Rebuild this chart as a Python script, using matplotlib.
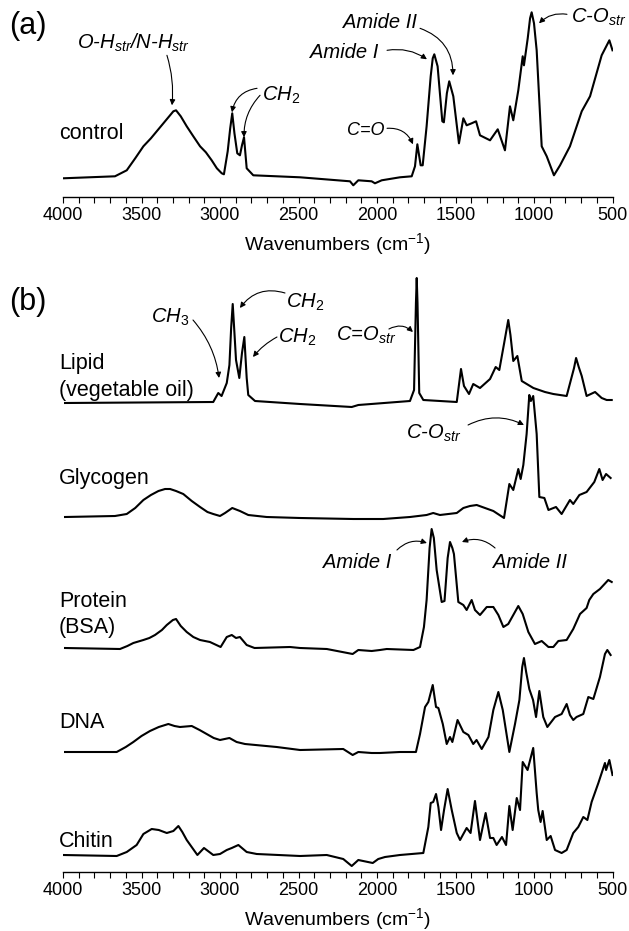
import matplotlib
matplotlib.use("Agg")
import matplotlib.pyplot as plt
from matplotlib.ticker import MultipleLocator

plt.rcParams['font.family'] = 'Liberation Sans'
plt.rcParams['mathtext.fontset'] = 'custom'
plt.rcParams['mathtext.rm'] = 'Liberation Sans'
plt.rcParams['mathtext.it'] = 'Liberation Sans:italic'

# --- (a) control spectrum ---
control_wn = [4000, 3669, 3594, 3540, 3488, 3440, 3403, 3350, 3297, 3280, 3250, 3212, 3170, 3127,
              3090, 3053, 3020, 2989, 2975, 2951, 2935, 2922, 2908, 2890, 2873, 2860, 2847, 2830,
              2788, 2490, 2172, 2151, 2119, 2034, 2013, 1970, 1854, 1779, 1758, 1743, 1722, 1709,
              1684, 1658, 1645, 1635, 1614, 1584, 1574, 1555, 1540, 1514, 1478, 1450, 1429, 1397,
              1369, 1344, 1280, 1231, 1185, 1153, 1132, 1100, 1072, 1064, 1040, 1025, 1015, 1000,
              983, 951, 919, 873, 834, 771, 696, 643, 569, 520, 500]
control_abs = [0, 2, 8, 20, 32, 40, 47, 57, 67, 68, 62, 52, 42, 32,
               26, 18, 10, 5, 4, 27, 50, 65, 45, 25, 23, 33, 41, 10,
               3, 1, -3, -7, -2, -3, -5, -2, 1, 2, 12, 34, 13, 13,
               52, 102, 120, 124, 112, 57, 56, 85, 97, 82, 35, 60, 53, 55,
               57, 43, 38, 49, 28, 72, 58, 88, 122, 113, 140, 160, 166, 155,
               128, 32, 22, 3, 13, 32, 67, 82, 123, 138, 128]

# --- (b) reference compounds ---
lipid_wn = [3987, 3043, 3011, 2990, 2957, 2940, 2929, 2919, 2908, 2898, 2877, 2860, 2845, 2830,
            2820, 2777, 2490, 2161, 2119, 1790, 1764, 1752, 1747, 1742, 1731, 1705, 1492, 1465,
            1446, 1414, 1387, 1344, 1280, 1244, 1221, 1190, 1164, 1150, 1132, 1106, 1078, 1004,
            930, 877, 792, 745, 732, 715, 696, 665, 611, 569, 537, 505]
lipid_abs = [0, 1, 10, 7, 20, 38, 75, 99, 70, 43, 25, 50, 66, 25,
             8, 2, -1, -4, -2, 2, 13, 100, 125, 100, 10, 3, 1, 34,
             17, 9, 19, 15, 24, 36, 33, 60, 83, 68, 42, 47, 22, 15,
             11, 9, 7, 35, 45, 36, 27, 7, 11, 5, 3, 3]

glyc_wn = [3987, 3669, 3594, 3540, 3488, 3440, 3392, 3350, 3318, 3280, 3234, 3180, 3127, 3080,
           3043, 3000, 2968, 2922, 2873, 2820, 2703, 2490, 2151, 1960, 1790, 1684, 1642, 1599,
           1492, 1450, 1408, 1365, 1312, 1259, 1191, 1157, 1132, 1100, 1085, 1068, 1047, 1030,
           1020, 1005, 983, 966, 934, 908, 860, 824, 771, 750, 711, 665, 616, 584, 563, 541, 512]
glyc_abs = [0, 1, 3, 9, 17, 22, 26, 28, 28, 26, 23, 16, 10, 5,
            3, 1, 4, 9, 6, 2, 0, -1, -2, -2, 0, 2, 4, 2,
            4, 9, 11, 12, 9, 6, -1, 33, 27, 48, 38, 52, 83, 122,
            116, 121, 83, 20, 19, 7, 10, 3, 17, 13, 22, 25, 35, 48, 37, 43, 39]

prot_wn = [3987, 3637, 3590, 3552, 3488, 3450, 3414, 3370, 3339, 3300, 3280, 3250, 3212, 3170,
           3127, 3064, 2996, 2957, 2925, 2898, 2873, 2830, 2780, 2554, 2490, 2320, 2155, 2119,
           2034, 1981, 1938, 1768, 1726, 1701, 1684, 1665, 1652, 1638, 1620, 1588, 1570, 1550,
           1535, 1520, 1510, 1482, 1450, 1429, 1397, 1376, 1344, 1301, 1259, 1227, 1195, 1164,
           1132, 1100, 1072, 1036, 994, 951, 908, 877, 845, 792, 750, 707, 686, 665, 648, 622,
           580, 527, 505]
prot_abs = [0, -1, 2, 5, 8, 10, 13, 18, 23, 28, 29, 22, 16, 11,
            8, 6, 1, 11, 13, 10, 11, 3, 0, 1, 0, -1, -6, -2,
            -3, -2, -1, -2, 1, 21, 48, 100, 119, 110, 78, 46, 47, 90,
            106, 100, 94, 46, 43, 38, 48, 38, 33, 41, 41, 33, 21, 24,
            33, 42, 34, 16, 4, 7, 1, 1, 7, 8, 19, 34, 37, 40, 48, 54,
            59, 68, 66]

dna_wn = [3987, 3658, 3600, 3552, 3500, 3446, 3390, 3329, 3290, 3255, 3180, 3130, 3085, 3040,
          3000, 2940, 2894, 2841, 2639, 2490, 2215, 2155, 2119, 2034, 1981, 1854, 1752, 1726,
          1694, 1673, 1645, 1624, 1609, 1581, 1556, 1535, 1520, 1487, 1450, 1418, 1387, 1366,
          1333, 1290, 1259, 1227, 1199, 1157, 1121, 1093, 1075, 1064, 1050, 1030, 1006, 987, 966,
          941, 915, 866, 824, 792, 771, 750, 729, 686, 654, 622, 580, 548, 533, 512]
dna_abs = [0, 0, 5, 10, 16, 21, 25, 28, 26, 25, 26, 22, 18, 14,
           12, 14, 10, 8, 5, 2, 3, -3, 0, -1, -1, 0, 0, 18,
           45, 50, 67, 45, 44, 28, 8, 15, 10, 32, 20, 17, 8, 12,
           3, 15, 42, 60, 42, 0, 28, 52, 85, 94, 80, 63, 52, 35, 61,
           35, 25, 35, 38, 48, 37, 32, 35, 38, 55, 53, 75, 98, 102, 97]

chit_wn = [4000, 3658, 3594, 3531, 3488, 3435, 3390, 3339, 3297, 3265, 3240, 3212, 3144, 3102,
           3043, 3000, 2957, 2925, 2883, 2830, 2766, 2490, 2320, 2215, 2161, 2119, 2027, 1992,
           1949, 1854, 1705, 1673, 1658, 1642, 1624, 1609, 1592, 1573, 1550, 1524, 1492, 1471,
           1429, 1404, 1376, 1344, 1308, 1280, 1259, 1238, 1204, 1178, 1157, 1136, 1110, 1089,
           1072, 1041, 1005, 983, 973, 958, 945, 919, 894, 866, 824, 792, 750, 718, 686, 660,
           633, 590, 548, 541, 520, 500]
chit_abs = [0, -1, 3, 10, 21, 26, 25, 22, 24, 29, 23, 15, 0, 7,
            0, 1, 5, 7, 10, 3, 1, -1, 0, -4, -11, -5, -8, -4,
            -2, 0, 2, 28, 52, 53, 61, 48, 25, 45, 66, 45, 22, 15,
            27, 22, 54, 15, 42, 17, 17, 10, 18, 10, 49, 25, 57, 45,
            93, 85, 107, 62, 45, 33, 44, 15, 19, 5, 2, 5, 22, 28, 38, 35,
            53, 72, 92, 85, 95, 80]

names = ["Lipid", "(vegetable oil)", "Glycogen", "Protein", "(BSA)", "DNA", "Chitin"]
spectra = [(lipid_wn, lipid_abs), (glyc_wn, glyc_abs), (prot_wn, prot_abs),
           (dna_wn, dna_abs), (chit_wn, chit_abs)]
offsets = [469, 355, 224, 120, 17]
label_y = [503, 476, 388, 265, 239, 144, 25]

W, H = 629, 931
fig = plt.figure(figsize=(W / 100, H / 100), dpi=100)
ax_a = fig.add_axes([63 / W, (H - 197) / H, 549.5 / W, 192 / H])
ax_b = fig.add_axes([63 / W, 59 / H, 549.5 / W, 607 / H])

fs_tick = 13
fs_lab = 15.5
fs_note = 14.5
for ax in (ax_a, ax_b):
    for s in ("left", "right", "top"):
        ax.spines[s].set_visible(False)
    ax.spines["bottom"].set_linewidth(1.0)
    ax.set_yticks([])
    ax.set_xlim(4000, 500)
    ax.xaxis.set_major_locator(MultipleLocator(500))
    ax.xaxis.set_minor_locator(MultipleLocator(100))
    ax.tick_params(axis="x", which="both", length=4, width=0.8, labelsize=fs_tick, pad=3)
    ax.set_xlabel("Wavenumbers (cm$^{\\mathrm{-1}}$)", fontsize=14, labelpad=5)

lw = 1.5
ax_a.plot(control_wn, control_abs, color="black", lw=lw)
ax_a.set_ylim(-18.7, 173.3)

for (wn, ab), off in zip(spectra, offsets):
    ax_b.plot(wn, [v + off for v in ab], color="black", lw=lw)
ax_b.set_ylim(0, 607)

# labels
ax_a.text(4025, 39, "control", fontsize=fs_lab, ha="left", va="baseline")
for name, y in zip(names, label_y):
    ax_b.text(4025, y, name, fontsize=fs_lab, ha="left", va="baseline")
fig.text(9 / W, 1 - 26 / H, "(a)", fontsize=22, ha="left", va="center")
fig.text(9 / W, 1 - 302 / H, "(b)", fontsize=22, ha="left", va="center")


def arrow(ax, tail, tip, rad):
    ax.annotate("", xy=tip, xytext=tail,
                arrowprops=dict(arrowstyle="-|>", lw=0.8, color="black", mutation_scale=8,
                                shrinkA=0, shrinkB=0,
                                connectionstyle="arc3,rad=%s" % rad))


def note(ax, txt, xy_txt, tail, tip, rad):
    ax.text(xy_txt[0], xy_txt[1], txt, fontsize=fs_note, style="italic", ha="center", va="center")
    arrow(ax, tail, tip, rad)


note(ax_a, "O-H$_{str}$/N-H$_{str}$", (3554, 135), (3338, 123), (3306, 73), -0.1)
note(ax_a, "CH$_2$", (2611, 83), (2764, 90), (2924, 66), 0.35)
arrow(ax_a, (2745, 83), (2847, 41), 0.2)
note(ax_a, "Amide II", (1981, 156), (1726, 150), (1516, 103), -0.35)
note(ax_a, "Amide I", (2210, 126), (1936, 128), (1682, 119), -0.2)
ax_a.text(2070, 48, "C=O", fontsize=13, style="italic", ha="center", va="center")
arrow(ax_a, (1936, 50), (1771, 34), -0.35)
note(ax_a, "C-O$_{str}$", (586, 161), (790, 164), (968, 155), 0.25)

note(ax_b, "CH$_3$", (3318, 555), (3172, 552), (3006, 494), -0.15)
note(ax_b, "CH$_2$", (2459, 570), (2586, 579), (2873, 564), 0.35)
note(ax_b, "CH$_2$", (2510, 535), (2637, 535), (2790, 515), 0.1)
note(ax_b, "C=O$_{str}$", (2070, 537), (1924, 543), (1771, 540), -0.35)
note(ax_b, "C-O$_{str}$", (1637, 439), (1420, 447), (1064, 447), -0.25)
note(ax_b, "Amide I", (2127, 310), (1873, 322), (1682, 329), -0.3)
note(ax_b, "Amide II", (1025, 310), (1248, 324), (1459, 330), 0.3)

fig.savefig("out.png", dpi=100)
